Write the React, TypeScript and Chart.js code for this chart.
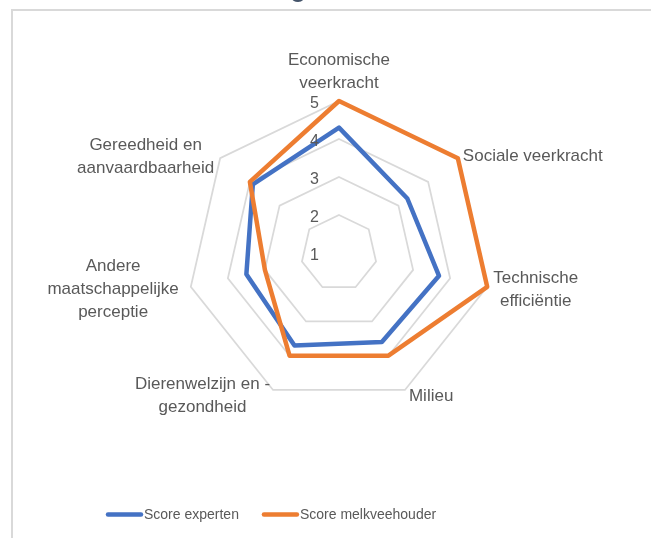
import React, { useEffect, useRef } from "react";
import { Chart, registerables } from "chart.js";

Chart.register(...registerables);

// ---- data ----
const CATEGORY_LINES: string[][] = [
  ["Economische", "veerkracht"],
  ["Sociale veerkracht"],
  ["Technische", "efficiëntie"],
  ["Milieu"],
  ["Dierenwelzijn en -", "gezondheid"],
  ["Andere", "maatschappelijke", "perceptie"],
  ["Gereedheid en", "aanvaardbaarheid"],
];
const CATEGORIES = CATEGORY_LINES.map((l) => l.join(" "));
const SCORE_EXPERTEN = [4.3, 3.3, 3.7, 3.6, 3.7, 3.5, 3.9];
const SCORE_MELKVEEHOUDER = [5, 5, 5, 4, 4, 3, 4];
const TICK_VALUES = [1, 2, 3, 4, 5];
const SERIES_NAMES = ["Score experten", "Score melkveehouder"];

// ---- style ----
const BLUE = "#4472C4";
const ORANGE = "#ED7D31";
const TEXT = "#595959";
const FONT = '"Liberation Sans", Arial, sans-serif';
const LABEL_GAP = [0, 5, 6, 4, 3, 12, 6];

const overlay = {
  id: "overlay",
  beforeDraw(chart: any) {
    const ctx = chart.ctx;
    ctx.save();
    ctx.fillStyle = "#ffffff";
    ctx.fillRect(0, 0, chart.width, chart.height);
    ctx.fillStyle = "#d9d9d9";
    ctx.fillRect(11, 9, chart.width, 2);
    ctx.fillRect(11, 9, 2, chart.height);
    // clipped title glyph above the chart box
    ctx.fillStyle = "#44546a";
    ctx.font = `30px ${FONT}`;
    ctx.textAlign = "left";
    ctx.textBaseline = "alphabetic";
    ctx.fillText("g", 290, -4);
    ctx.restore();
  },
  afterDraw(chart: any) {
    const ctx = chart.ctx;
    const scale = chart.scales.r;
    ctx.save();
    // point labels
    ctx.fillStyle = TEXT;
    ctx.font = `17px ${FONT}`;
    ctx.textAlign = "center";
    ctx.textBaseline = "alphabetic";
    const LH = 23;
    const r = scale.drawingArea;
    CATEGORY_LINES.forEach((lines, i) => {
      const p = scale.getPointPosition(i, r);
      const a = scale.getIndexAngle(i);
      const s = Math.sin(a);
      const c = Math.cos(a);
      const bw = Math.max(...lines.map((l) => ctx.measureText(l).width));
      let cx: number;
      if (Math.abs(s) < 0.01) cx = p.x;
      else if (s > 0) cx = p.x + LABEL_GAP[i] + bw / 2;
      else cx = p.x - LABEL_GAP[i] - bw / 2;
      const n = lines.length;
      let first: number;
      if (c > 0.99) first = p.y - 13 - (n - 1) * LH;
      else first = p.y + 1 + 5.25 * (1 - c) - ((n - 1) * LH) / 2;
      lines.forEach((l, k) => ctx.fillText(l, cx, first + k * LH));
    });
    // tick labels
    ctx.font = `16px ${FONT}`;
    ctx.textAlign = "right";
    TICK_VALUES.forEach((v) => {
      const pos = scale.getPointPositionForValue(0, v);
      ctx.fillText(String(v), scale.xCenter - 20, pos.y + 7);
    });
    // legend
    ctx.font = `14px ${FONT}`;
    ctx.textAlign = "left";
    let x = 108;
    const ly = 514.5;
    chart.data.datasets.forEach((ds: any) => {
      ctx.strokeStyle = ds.borderColor;
      ctx.lineWidth = 4.5;
      ctx.lineCap = "round";
      ctx.beginPath();
      ctx.moveTo(x, ly);
      ctx.lineTo(x + 33, ly);
      ctx.stroke();
      ctx.fillStyle = TEXT;
      ctx.fillText(ds.label, x + 36, ly + 4.5);
      x += 36 + ctx.measureText(ds.label).width + 25;
    });
    ctx.restore();
  },
};

export default function App() {
  const ref = useRef<HTMLCanvasElement>(null);
  useEffect(() => {
    if (!ref.current) return;
    const chart = new Chart(ref.current, {
      type: "radar",
      data: {
        labels: CATEGORIES,
        datasets: [
          {
            label: SERIES_NAMES[0],
            data: SCORE_EXPERTEN,
            borderColor: BLUE,
            backgroundColor: BLUE,
            borderWidth: 4.5,
            fill: false,
            pointRadius: 0,
            pointHoverRadius: 0,
            borderJoinStyle: "round",
            order: 1,
          },
          {
            label: SERIES_NAMES[1],
            data: SCORE_MELKVEEHOUDER,
            borderColor: ORANGE,
            backgroundColor: ORANGE,
            borderWidth: 4.5,
            fill: false,
            pointRadius: 0,
            pointHoverRadius: 0,
            borderJoinStyle: "round",
            order: -1,
          },
        ],
      },
      options: {
        responsive: false,
        animation: false,
        layout: { padding: { left: 187, right: 160, top: 101, bottom: 133 } },
        plugins: {
          legend: { display: false },
          title: { display: false },
          tooltip: { enabled: false },
        },
        elements: { line: { tension: 0 } },
        scales: {
          r: {
            min: 1,
            max: 5,
            beginAtZero: false,
            ticks: { display: false, stepSize: 1 },
            grid: { color: "#d9d9d9", lineWidth: 1.75 },
            angleLines: { display: false },
            pointLabels: { display: false },
          },
        },
      },
      plugins: [overlay],
    } as any);
    return () => chart.destroy();
  }, []);
  return (
    <div style={{ position: "fixed", left: 0, top: 0, width: 651, height: 538, background: "#fff" }}>
      <canvas ref={ref} width={651} height={538} style={{ display: "block" }} />
    </div>
  );
}
